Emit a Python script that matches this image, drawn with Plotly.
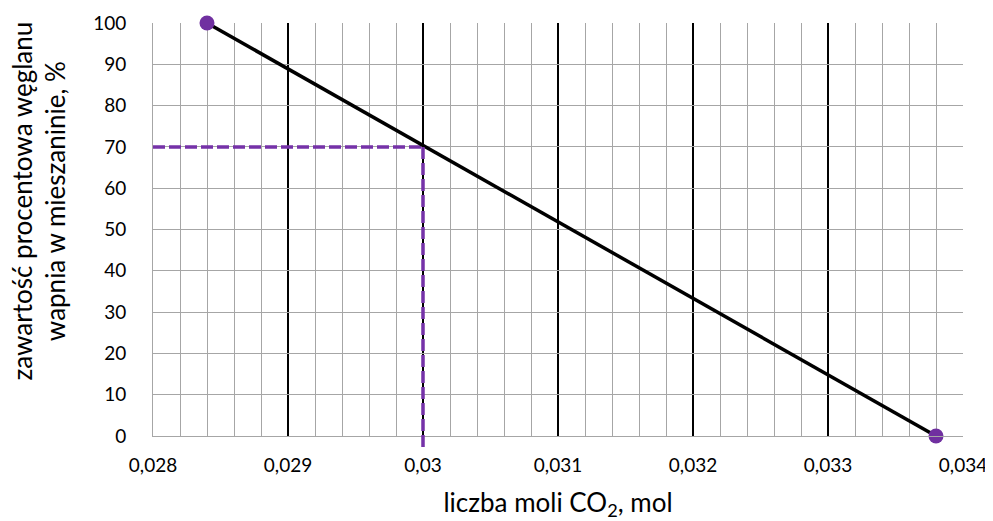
import plotly.graph_objects as go

line_x = [0.0284, 0.0338]
line_y = [100, 0]
read_h_x = [0.028, 0.03]
read_h_y = [70, 70]
read_v_x = 0.03
read_v_y = [70, -3]
xtick_vals = [0.028, 0.029, 0.030, 0.031, 0.032, 0.033, 0.034]
xtick_text = ["0,028", "0,029", "0,03", "0,031", "0,032", "0,033", "0,034"]
ytick_vals = [0, 10, 20, 30, 40, 50, 60, 70, 80, 90, 100]
y_range = [0, 100]
y_title = "zawartość procentowa węglanu<br>wapnia w mieszaninie, %"
x_title = "liczba moli CO<sub>2</sub>, mol"

purple = "#7030A0"
dash_purple = "#7532A8"
font = "Lato"

fig = go.Figure()
fig.add_trace(go.Scatter(x=read_h_x, y=read_h_y, mode="lines",
                         line=dict(color=dash_purple, width=3.5, dash="12px,4px"),
                         showlegend=False, hoverinfo="skip"))
# vertical reading line, extends slightly below the x axis
to_paper = lambda v: (v - y_range[0]) / (y_range[1] - y_range[0])
fig.add_shape(type="line", xref="x", yref="paper",
              x0=read_v_x, x1=read_v_x, y0=to_paper(read_v_y[0]), y1=to_paper(read_v_y[1]),
              line=dict(color=dash_purple, width=3.5, dash="12px,4px"), layer="above")
fig.add_trace(go.Scatter(x=line_x, y=line_y, mode="lines+markers",
                         line=dict(color="black", width=3.5),
                         marker=dict(color=purple, size=15),
                         cliponaxis=False, showlegend=False))

fig.add_annotation(text=y_title, xref="paper", yref="paper", x=0, y=0.5,
                   xanchor="center", yanchor="middle", xshift=-115, yshift=28,
                   textangle=-90, showarrow=False, font=dict(size=26))

fig.update_layout(
    width=985, height=513,
    margin=dict(l=145, r=30, t=15, b=85),
    paper_bgcolor="white", plot_bgcolor="white",
    font=dict(family=font, size=19, color="black"),
    xaxis=dict(range=[0.028, 0.034], tickvals=xtick_vals, ticktext=xtick_text,
               showgrid=True, gridcolor="black", gridwidth=1.5,
               minor=dict(dtick=0.0002, tick0=0.028, showgrid=True, gridcolor="#a6a6a6", gridwidth=1),
               showline=True, linecolor="#a6a6a6", linewidth=1, zeroline=False,
               ticks="outside", ticklen=12, tickcolor="rgba(0,0,0,0)", automargin=False,
               title=dict(text=x_title, font=dict(size=26), standoff=24)),
    yaxis=dict(range=y_range, tickvals=ytick_vals,
               showgrid=True, gridcolor="#a6a6a6", gridwidth=1,
               showline=True, linecolor="#a6a6a6", linewidth=1, zeroline=False,
               ticks="outside", ticklen=22, tickcolor="rgba(0,0,0,0)", automargin=False),
)

fig.write_html("out.html")
